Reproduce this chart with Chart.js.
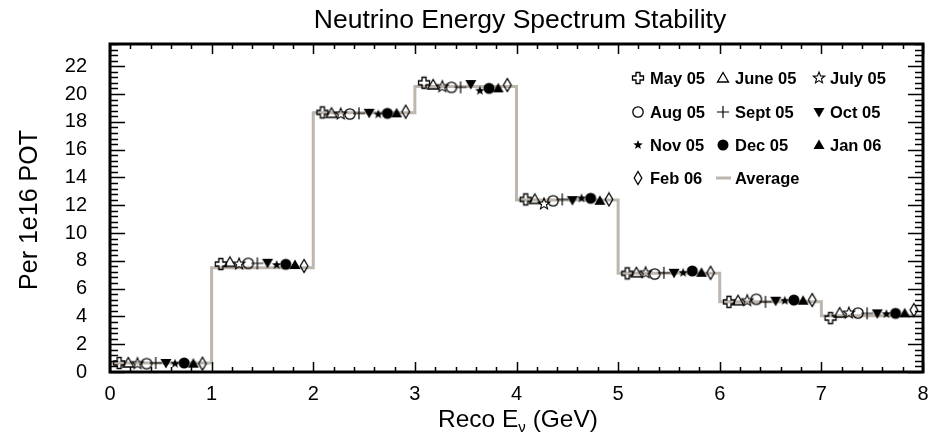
<!DOCTYPE html>
<html>
<head>
<meta charset="utf-8">
<script src="https://cdn.jsdelivr.net/npm/chart.js@4.4.1/dist/chart.umd.min.js"></script>
<style>
  html, body { margin: 0; padding: 0; background: #fff; }
</style>
</head>
<body>
<canvas id="spectrum" width="930" height="442"></canvas>
<script>
// bin left edges (GeV) and the reading of every month per bin
const binEdges = [0, 1, 2, 3, 4, 5, 6, 7];
const xTicks = [0, 1, 2, 3, 4, 5, 6, 7, 8];
const yTicks = [0, 2, 4, 6, 8, 10, 12, 14, 16, 18, 20, 22];
const months = ['May 05', 'June 05', 'July 05', 'Aug 05', 'Sept 05', 'Oct 05', 'Nov 05', 'Dec 05', 'Jan 06', 'Feb 06'];
// where each month sits inside a bin
const monthOffsets = [0.09, 0.18, 0.27, 0.36, 0.45, 0.55, 0.64, 0.73, 0.82, 0.91];

const may05  = [0.65, 7.77, 18.68, 20.81, 12.42, 7.10, 5.05, 3.88];
const jun05  = [0.65, 7.89, 18.61, 20.65, 12.42, 7.14, 5.13, 4.24];
const jul05  = [0.60, 7.77, 18.56, 20.53, 12.09, 7.14, 5.13, 4.24];
const aug05  = [0.60, 7.82, 18.56, 20.48, 12.32, 7.05, 5.23, 4.24];
const sep05  = [0.65, 7.82, 18.61, 20.48, 12.42, 7.14, 5.05, 4.22];
const oct05  = [0.65, 7.86, 18.65, 20.72, 12.37, 7.14, 5.13, 4.22];
const nov05  = [0.60, 7.70, 18.54, 20.24, 12.50, 7.14, 5.13, 4.17];
const dec05  = [0.65, 7.75, 18.61, 20.41, 12.50, 7.27, 5.18, 4.22];
const jan06  = [0.60, 7.70, 18.61, 20.41, 12.32, 7.14, 5.13, 4.22];
const feb06  = [0.60, 7.63, 18.73, 20.65, 12.42, 7.14, 5.18, 4.46];
const average = [0.65, 7.50, 18.65, 20.55, 12.37, 7.10, 5.05, 4.05];

const monthValues = [may05, jun05, jul05, aug05, sep05, oct05, nov05, dec05, jan06, feb06];
const markerKinds = ['ocross', 'otri', 'ostar', 'ocircle', 'plus', 'ftridown', 'fstar', 'fcircle', 'ftri', 'odiamond'];

const FONT = "'Liberation Sans', Arial, Helvetica, sans-serif";
const AVG_COLOR = '#bdb6ae';

function starPath(ctx, R, r) {
    ctx.beginPath();
    for (let i = 0; i < 10; i++) {
        const rad = i % 2 === 0 ? R : r;
        const a = -Math.PI / 2 + i * Math.PI / 5;
        const px = rad * Math.cos(a), py = rad * Math.sin(a);
        if (i === 0) ctx.moveTo(px, py); else ctx.lineTo(px, py);
    }
    ctx.closePath();
}

function makeMarker(kind) {
    const c = document.createElement('canvas');
    c.width = 16; c.height = 16;
    const ctx = c.getContext('2d');
    ctx.translate(8, 8);
    ctx.strokeStyle = '#000';
    ctx.fillStyle = '#000';
    ctx.lineWidth = 1.3;
    ctx.lineJoin = 'miter';
    if (kind === 'ocross') {
        const a = 2, L = 5.5;
        ctx.beginPath();
        ctx.moveTo(-a, -L); ctx.lineTo(a, -L); ctx.lineTo(a, -a); ctx.lineTo(L, -a);
        ctx.lineTo(L, a); ctx.lineTo(a, a); ctx.lineTo(a, L); ctx.lineTo(-a, L);
        ctx.lineTo(-a, a); ctx.lineTo(-L, a); ctx.lineTo(-L, -a); ctx.lineTo(-a, -a);
        ctx.closePath();
        ctx.stroke();
    } else if (kind === 'otri' || kind === 'ftri') {
        ctx.beginPath();
        ctx.moveTo(0, -5.5); ctx.lineTo(5.5, 4); ctx.lineTo(-5.5, 4); ctx.closePath();
        if (kind === 'ftri') ctx.fill(); else ctx.stroke();
    } else if (kind === 'ftridown') {
        ctx.beginPath();
        ctx.moveTo(-5.5, -4); ctx.lineTo(5.5, -4); ctx.lineTo(0, 5.5); ctx.closePath();
        ctx.fill();
    } else if (kind === 'ostar') {
        starPath(ctx, 6, 2.6);
        ctx.lineWidth = 1.1;
        ctx.stroke();
    } else if (kind === 'fstar') {
        starPath(ctx, 5, 2.1);
        ctx.fill();
    } else if (kind === 'ocircle') {
        ctx.beginPath(); ctx.arc(0, 0, 5.2, 0, Math.PI * 2); ctx.stroke();
    } else if (kind === 'fcircle') {
        ctx.beginPath(); ctx.arc(0, 0, 5.5, 0, Math.PI * 2); ctx.fill();
    } else if (kind === 'plus') {
        ctx.lineWidth = 1.2;
        ctx.beginPath();
        ctx.moveTo(-6, 0); ctx.lineTo(6, 0); ctx.moveTo(0, -6); ctx.lineTo(0, 6);
        ctx.stroke();
    } else if (kind === 'odiamond') {
        ctx.beginPath();
        ctx.moveTo(0, -6.5); ctx.lineTo(3.8, 0); ctx.lineTo(0, 6.5); ctx.lineTo(-3.8, 0); ctx.closePath();
        ctx.stroke();
    }
    return c;
}

const markers = markerKinds.map(makeMarker);

const datasets = months.map((m, k) => ({
    label: m,
    data: binEdges.map((b, i) => ({ x: b + monthOffsets[k], y: monthValues[k][i] })),
    pointStyle: markers[k],
    pointRadius: 6,
    showLine: false,
    order: 1
}));

// the histogram of the average, drawn as a step line under the markers
const avgPoints = binEdges.map((b, i) => ({ x: b, y: average[i] }));
avgPoints.push({ x: 8, y: average[average.length - 1] });
datasets.push({
    label: 'Average',
    data: avgPoints,
    showLine: true,
    stepped: 'before',
    borderColor: AVG_COLOR,
    borderWidth: 3,
    pointRadius: 0,
    fill: false,
    order: 10
});

const framePlugin = {
    id: 'frame',
    afterDraw(chart) {
        const ctx = chart.ctx;
        const a = chart.chartArea;
        const xs = chart.scales.x, ys = chart.scales.y;
        ctx.save();
        ctx.strokeStyle = '#000';
        // ticks, inside the frame on all four sides
        ctx.lineWidth = 1.5;
        ctx.beginPath();
        for (let i = 0; i <= 40; i++) {
            const v = i * 0.2;
            const px = Math.round(xs.getPixelForValue(v)) + 0.5;
            const len = i % 5 === 0 ? 10 : 5;
            ctx.moveTo(px, a.bottom); ctx.lineTo(px, a.bottom - len);
            ctx.moveTo(px, a.top); ctx.lineTo(px, a.top + len);
        }
        for (let i = 0; i * 0.4 <= 23.6; i++) {
            const v = i * 0.4;
            const py = Math.round(ys.getPixelForValue(v)) + 0.5;
            const len = i % 5 === 0 ? 15 : 8;
            ctx.moveTo(a.left, py); ctx.lineTo(a.left + len, py);
            ctx.moveTo(a.right, py); ctx.lineTo(a.right - len, py);
        }
        ctx.stroke();
        // frame
        ctx.lineWidth = 3;
        ctx.strokeRect(a.left, a.top, a.right - a.left, a.bottom - a.top);

        ctx.fillStyle = '#000';
        // title
        ctx.font = '26.5px ' + FONT;
        ctx.textAlign = 'center';
        ctx.textBaseline = 'middle';
        ctx.fillText('Neutrino Energy Spectrum Stability', 520, 21);

        // x title with subscript nu
        const big = '24.5px ' + FONT, small = '15px ' + FONT;
        ctx.font = big;
        const w1 = ctx.measureText('Reco E').width;
        const w3 = ctx.measureText(' (GeV)').width;
        ctx.font = small;
        const w2 = ctx.measureText('\u03bd').width;
        let x0 = 518 - (w1 + w2 + w3) / 2;
        ctx.textAlign = 'left';
        ctx.textBaseline = 'alphabetic';
        ctx.font = big;
        ctx.fillText('Reco E', x0, 427);
        ctx.font = small;
        ctx.fillText('\u03bd', x0 + w1, 432);
        ctx.font = big;
        ctx.fillText(' (GeV)', x0 + w1 + w2, 427);

        // y title
        ctx.save();
        ctx.translate(30, 210);
        ctx.rotate(-Math.PI / 2);
        ctx.font = '25px ' + FONT;
        ctx.textAlign = 'center';
        ctx.textBaseline = 'middle';
        ctx.fillText('Per 1e16 POT', 0, 0);
        ctx.restore();

        // legend
        const colMarker = [638, 723, 819];
        const colText = [650, 735, 830];
        const rowY = [78, 112, 145, 178];
        ctx.font = 'bold 16.5px ' + FONT;
        ctx.textAlign = 'left';
        ctx.textBaseline = 'middle';
        const entries = months.map((m, k) => ({ label: m, marker: markers[k] }));
        entries.push({ label: 'Average', marker: null });
        entries.forEach((e, i) => {
            const r = Math.floor(i / 3), c = i % 3;
            const y = rowY[r];
            if (e.marker) {
                ctx.drawImage(e.marker, colMarker[c] - 8, y - 8);
            } else {
                ctx.strokeStyle = AVG_COLOR;
                ctx.lineWidth = 3;
                ctx.beginPath();
                ctx.moveTo(colMarker[c] - 7, y); ctx.lineTo(colMarker[c] + 8, y);
                ctx.stroke();
            }
            ctx.fillText(e.label, colText[c], y + 1);
        });
        ctx.restore();
    }
};

new Chart(document.getElementById('spectrum'), {
    type: 'scatter',
    data: { datasets: datasets },
    options: {
        responsive: false,
        animation: false,
        layout: { padding: { top: 44, right: 0, left: 0, bottom: 0 } },
        plugins: {
            legend: { display: false },
            tooltip: { enabled: false },
            title: { display: false }
        },
        scales: {
            x: {
                type: 'linear',
                min: 0,
                max: 8,
                afterFit(s) { s.height = 70; s.paddingRight = 7; s.paddingLeft = 0; },
                afterBuildTicks(s) { s.ticks = xTicks.map(v => ({ value: v })); },
                grid: { display: false },
                border: { display: false },
                ticks: { color: '#000', padding: 2, font: { family: FONT, size: 20 }, maxRotation: 0 }
            },
            y: {
                type: 'linear',
                min: 0,
                max: 23.6,
                afterFit(s) { s.width = 110; s.paddingTop = 0; s.paddingBottom = 0; },
                afterBuildTicks(s) { s.ticks = yTicks.map(v => ({ value: v })); },
                grid: { display: false },
                border: { display: false },
                ticks: { color: '#000', padding: 15, font: { family: FONT, size: 20 } }
            }
        }
    },
    plugins: [framePlugin]
});
</script>
</body>
</html>
